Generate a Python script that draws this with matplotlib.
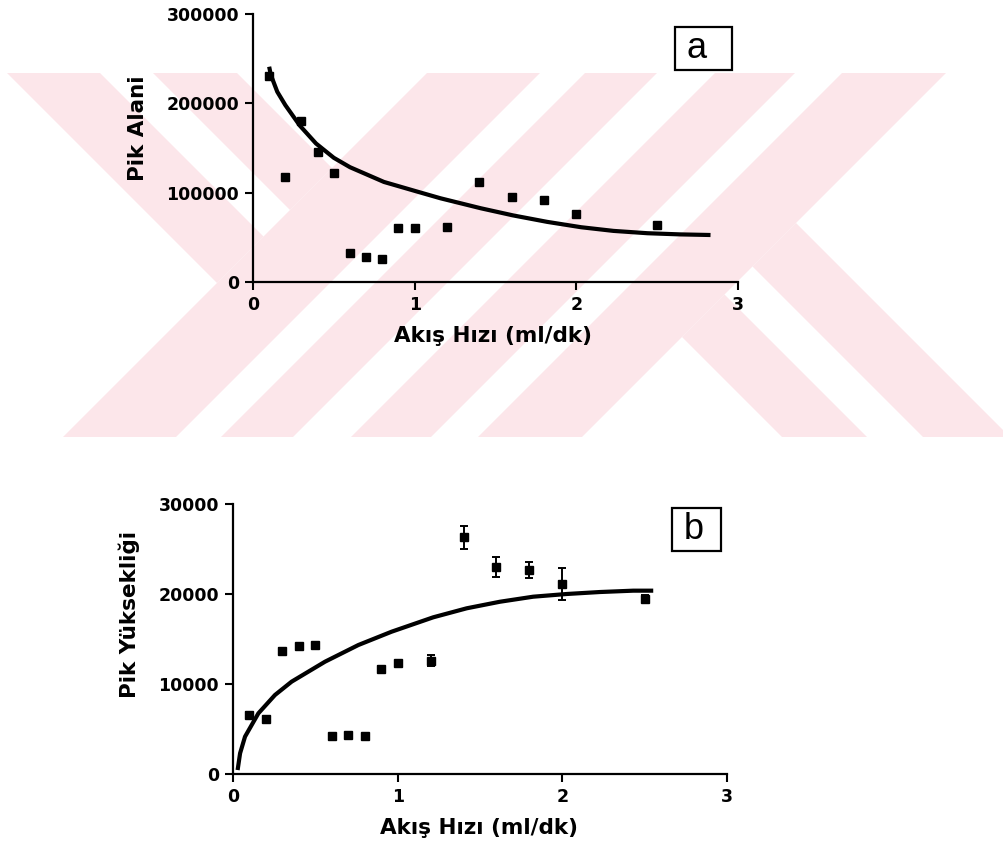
import matplotlib
matplotlib.use('Agg')
import matplotlib.pyplot as plt
from matplotlib.patches import Polygon, Rectangle

plt.rcParams['font.family'] = 'DejaVu Sans'
plt.rcParams['font.weight'] = 'bold'

# --- data ---
flow = [0.1, 0.2, 0.3, 0.4, 0.5, 0.6, 0.7, 0.8, 0.9, 1.0, 1.2, 1.4, 1.6, 1.8, 2.0, 2.5]

peak_area = [231000, 118000, 180000, 146000, 122000, 33000, 28000, 26000,
             61000, 61000, 62000, 112000, 95000, 92000, 76000, 64000]
fit_area_x = [0.10, 0.11, 0.15, 0.20, 0.29, 0.39, 0.50, 0.60, 0.81, 1.01, 1.16,
              1.41, 1.61, 1.82, 2.03, 2.23, 2.44, 2.64, 2.83]
fit_area_y = [241000, 232000, 213000, 198000, 175000, 155000, 139000, 128500, 112000,
              101500, 93700, 82500, 74500, 67300, 61300, 57200, 54600, 53300, 52600]

peak_height = [6600, 6100, 13700, 14200, 14300, 4200, 4300, 4200,
               11700, 12300, 12600, 26300, 23000, 22700, 21100, 19500]
peak_height_err = [250, 250, 250, 250, 250, 200, 250, 200,
                   250, 300, 650, 1250, 1150, 870, 1750, 400]
fit_height_x = [0.028, 0.043, 0.073, 0.154, 0.255, 0.356, 0.559, 0.761, 0.963, 1.216,
                1.419, 1.621, 1.823, 2.026, 2.228, 2.431, 2.552]
fit_height_y = [440, 2300, 4150, 6740, 8780, 10260, 12480, 14330, 15810, 17410,
                18410, 19140, 19700, 20000, 20220, 20370, 20370]

W, H = 1004, 848
fig = plt.figure(figsize=(W / 100, H / 100), dpi=100)

# --- background watermark (diagonal bands), pixel coords, y down ---
PINK = '#fce6ea'
Y0, Y1 = 73, 437


def clip(poly, a, b, c):
    out = []
    n = len(poly)
    for i in range(n):
        p, q = poly[i], poly[(i + 1) % n]
        fp = a * p[0] + b * p[1] + c
        fq = a * q[0] + b * q[1] + c
        if fp >= 0:
            out.append(p)
        if (fp >= 0) != (fq >= 0):
            t = fp / (fp - fq)
            out.append((p[0] + t * (q[0] - p[0]), p[1] + t * (q[1] - p[1])))
    return out


def u_rng(lo, hi):   # "\" band: u = x - (y - Y0)
    return [(1, -1, Y0 - lo), (-1, 1, hi - Y0)]


def v_rng(lo, hi):   # "/" band: v = x + (y - Y0)
    return [(1, 1, -Y0 - lo), (-1, -1, hi + Y0)]


pieces = []
for lo, hi in [(7, 100), (153, 237)]:
    pieces.append(u_rng(lo, hi) + v_rng(-9999, 427))
for lo, hi in [(427, 540), (585, 657), (715, 795), (842, 946)]:
    pieces.append(v_rng(lo, hi))
for lo, hi in [(418, 503), (559, 646)]:
    pieces.append(u_rng(lo, hi) + v_rng(946, 9999))

strip = [(0, Y0), (W, Y0), (W, Y1), (0, Y1)]
for hp in pieces:
    poly = strip
    for a, b, c in hp:
        poly = clip(poly, a, b, c)
        if not poly:
            break
    if len(poly) >= 3:
        pts = [(x / W, 1 - y / H) for x, y in poly]
        fig.add_artist(Polygon(pts, closed=True, transform=fig.transFigure,
                               facecolor=PINK, edgecolor='none', zorder=-10))


def style(ax):
    ax.set_facecolor('none')
    for s in ['top', 'right']:
        ax.spines[s].set_visible(False)
    for s in ['left', 'bottom']:
        ax.spines[s].set_linewidth(1.6)
    ax.tick_params(direction='out', length=6, width=1.5, labelsize=12.5, pad=4)
    for lab in ax.get_xticklabels() + ax.get_yticklabels():
        lab.set_fontweight('bold')


# --- panel a ---
ax1 = fig.add_axes([253 / W, 1 - 282 / H, 485 / W, 268 / H])
ax1.plot(fit_area_x, fit_area_y, color='black', lw=3.0, solid_capstyle='butt')
ax1.plot(flow, peak_area, 's', color='black', ms=5.5, clip_on=False)
ax1.set_xlim(0, 3)
ax1.set_ylim(0, 300000)
ax1.set_xticks([0, 1, 2, 3])
ax1.set_yticks([0, 100000, 200000, 300000])
style(ax1)
ax1.set_xlabel('Akış Hızı (ml/dk)', fontsize=15.5, fontweight='bold', va='center')
ax1.xaxis.set_label_coords(0.495, -0.20)
ax1.set_ylabel('Pik Alani', fontsize=15.5, fontweight='bold', va='center')
ax1.yaxis.set_label_coords(-0.238, 0.575)
ax1.add_patch(Rectangle((0.870, 0.791), 0.118, 0.160, transform=ax1.transAxes,
                        fill=False, lw=1.6, clip_on=False))
ax1.text(0.915, 0.872, 'a', transform=ax1.transAxes, fontsize=26,
         fontweight='normal', fontfamily='Liberation Sans', ha='center', va='center')

# --- panel b ---
ax2 = fig.add_axes([233 / W, 1 - 774 / H, 494 / W, 270 / H])
ax2.plot(fit_height_x, fit_height_y, color='black', lw=3.0, solid_capstyle='butt')
ax2.errorbar(flow, peak_height, yerr=peak_height_err, fmt='s', color='black',
             ms=5.5, elinewidth=1.4, capsize=2.8, capthick=1.4, clip_on=False)
ax2.set_xlim(0, 3)
ax2.set_ylim(0, 30000)
ax2.set_xticks([0, 1, 2, 3])
ax2.set_yticks([0, 10000, 20000, 30000])
style(ax2)
ax2.set_xlabel('Akış Hızı (ml/dk)', fontsize=15.5, fontweight='bold', va='center')
ax2.xaxis.set_label_coords(0.497, -0.20)
ax2.set_ylabel('Pik Yüksekliği', fontsize=15.5, fontweight='bold', va='center')
ax2.yaxis.set_label_coords(-0.2105, 0.589)
ax2.add_patch(Rectangle((0.889, 0.826), 0.099, 0.159, transform=ax2.transAxes,
                        fill=False, lw=1.6, clip_on=False))
ax2.text(0.932, 0.905, 'b', transform=ax2.transAxes, fontsize=26,
         fontweight='normal', fontfamily='Liberation Sans', ha='center', va='center')

fig.savefig('out.png', dpi=100)
